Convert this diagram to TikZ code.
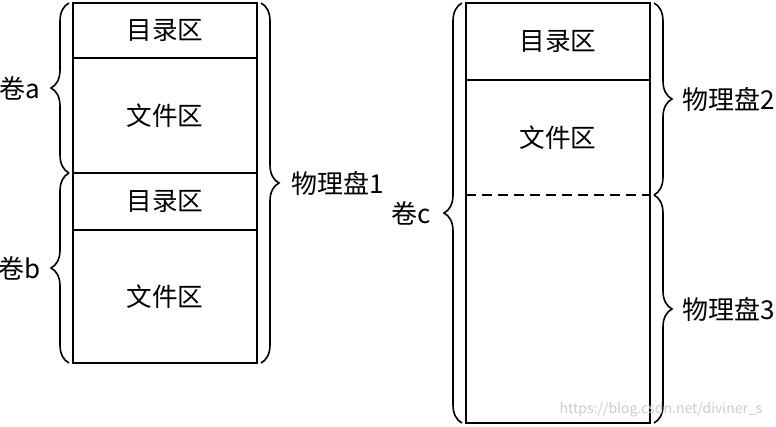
\documentclass[tikz,border=0pt]{standalone}
\usepackage{fontspec}
\setmainfont{Noto Sans CJK SC}
\usepackage{tikz}
\usetikzlibrary{positioning, decorations.pathreplacing}
\tikzset{
  zone/.style={rectangle, draw=black, line width=1.1pt, outer sep=0pt, inner sep=0pt,
               minimum width=92pt, font=\fontsize{12.8pt}{15pt}\selectfont},
  brc/.style={decorate, decoration={brace, amplitude=9pt}, line width=0.8pt},
  lbl/.style={inner sep=1pt, font=\fontsize{13pt}{15pt}\selectfont},
}

\begin{document}
\begin{tikzpicture}[x=0.5pt, y=-0.5pt]
  \useasboundingbox (0,0) rectangle (776,427);
  % disk 1 holds volumes a and b
  \node[zone, minimum height=27.5pt] (dira) at (165,30.5) {目录区};
  \node[zone, minimum height=57.5pt, below=0pt of dira] (fila) {文件区};
  \node[zone, minimum height=28.5pt, below=0pt of fila] (dirb) {目录区};
  \node[zone, minimum height=66.5pt, below=0pt of dirb] (filb) {文件区};
  % volume c spans disks 2 and 3
  \node[zone, minimum height=210pt] (volc) at (558,213) {};
  \node[zone, minimum height=38.5pt, anchor=north] (dirc) at (volc.north) {目录区};
  \node[zone, draw=none, minimum height=57.5pt, below=0pt of dirc] (filc) {文件区};
  \draw[line width=1pt, dash pattern=on 5pt off 3pt] (filc.south west) -- (filc.south east);
  % braces
  \draw[brc] ([xshift=-2pt]fila.south west) -- node[lbl, left=13pt] (vola) {卷a} ([xshift=-2pt]dira.north west);
  \draw[brc] ([xshift=-2pt]filb.south west) -- node[lbl, left=13pt] (volb) {卷b} ([xshift=-2pt]dirb.north west);
  \draw[brc] ([xshift=2pt]dira.north east) -- node[lbl, right=14pt] (pd1) {物理盘1} ([xshift=2pt]filb.south east);
  \draw[brc] ([xshift=-2pt]volc.south west) -- node[lbl, left=14pt] (vc) {卷c} ([xshift=-2pt]volc.north west);
  \draw[brc] ([xshift=2pt]volc.north east) -- node[lbl, right=13pt] (pd2) {物理盘2} ([xshift=2pt]filc.south east);
  \draw[brc] ([xshift=2pt]filc.south east) -- node[lbl, right=13pt] (pd3) {物理盘3} ([xshift=2pt]volc.south east);
  \node[text=gray!40, font=\fontsize{7pt}{8pt}\selectfont] (wm) at (661,410) {https://blog.csdn.net/diviner\_s};
\end{tikzpicture}
\end{document}
